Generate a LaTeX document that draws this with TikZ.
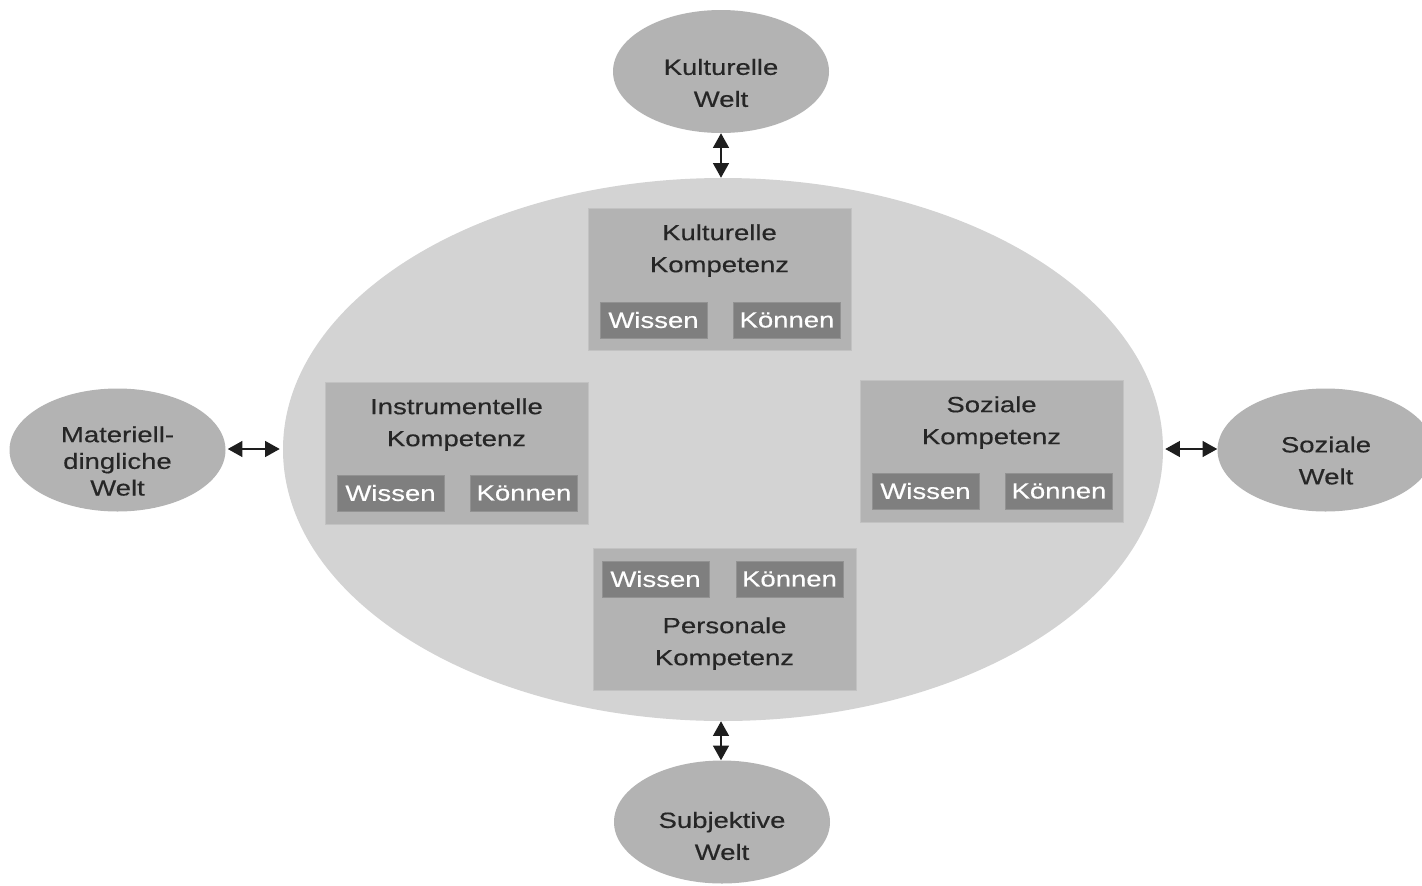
\documentclass[tikz,border=0pt]{standalone}
\usepackage{fontspec}
\newfontfamily\wfont[FakeStretch=1.25,FakeBold=0.4]{Liberation Sans}
\usetikzlibrary{shapes.geometric,arrows.meta,calc}
\definecolor{bigfill}{HTML}{D3D3D3}
\definecolor{weltfill}{HTML}{B3B3B3}
\definecolor{boxfill}{HTML}{B3B3B3}
\definecolor{boxline}{HTML}{C2C2C2}
\definecolor{smallfill}{HTML}{7F7F7F}
\definecolor{txt}{HTML}{262626}
\definecolor{arr}{HTML}{1E1E1E}
\tikzset{
  bigell/.style={ellipse, fill=bigfill, minimum width=660pt, minimum height=407.25pt, inner sep=0pt},
  welt/.style={ellipse, fill=weltfill, minimum width=162pt, minimum height=92.25pt, inner sep=0pt},
  wtext/.style={align=center, text=txt, font=\wfont\fontsize{16.5}{24}\selectfont, inner sep=0pt},
  wtextsm/.style={align=center, text=txt, font=\wfont\fontsize{16.5}{20}\selectfont, inner sep=0pt},
  kbox/.style={rectangle, fill=boxfill, draw=boxline, line width=0.6pt, minimum width=197.25pt, minimum height=106.5pt, inner sep=0pt},
  ktext/.style={align=center, text=txt, font=\wfont\fontsize{16.5}{24}\selectfont, inner sep=0pt},
  sbox/.style={rectangle, fill=smallfill, draw=smallfill!85!white, line width=0.4pt, minimum width=80.25pt, minimum height=27pt, inner sep=0pt, text=white, font=\wfont\fontsize{16.5}{20}\selectfont},
  dbl/.style={{Triangle[length=11pt,width=12pt]}-{Triangle[length=11pt,width=12pt]}, draw=arr, fill=arr, line width=1pt}
}
\begin{document}
\begin{tikzpicture}[x=0.75pt,y=-0.75pt]
\useasboundingbox (0,0) rectangle (1422,886);
\clip (0,0) rectangle (1422,886);
\fill[white] (0,0) rectangle (1422,886);
% big ellipse
\node[bigell] (big) at (723,449.5) {};
% outer worlds
\node[welt] (kw) at (721,71.5) {};
\node[wtext] (kwt) at (721,83) {Kulturelle\\Welt};
\node[welt] (mw) at (117.5,450) {};
\node[wtextsm] (mwt) at (117.5,461) {Materiell-\\dingliche\\Welt};
\node[welt] (sw) at (1325.5,450) {};
\node[wtext] (swt) at (1326,460.5) {Soziale\\Welt};
\node[welt] (subw) at (722,822) {};
\node[wtext] (subwt) at (722,836) {Subjektive\\Welt};
% competence boxes
\node[kbox] (kk) at (719.5,279.5) {};
\node[ktext] (kkt) at (719.5,250.5) {Kulturelle\\Kompetenz};
\node[sbox] (kkw) at (653.5,320) {Wissen};
\node[sbox] (kkk) at (787,320) {Können};
\node[kbox] (ik) at (456.5,453) {};
\node[ktext] (ikt) at (456.5,424.5) {Instrumentelle\\Kompetenz};
\node[sbox] (ikw) at (390.5,493) {Wissen};
\node[sbox] (ikk) at (524,493) {Können};
\node[kbox] (sk) at (991.5,451) {};
\node[ktext] (skt) at (991.5,422.5) {Soziale\\Kompetenz};
\node[sbox] (skw) at (925.5,491) {Wissen};
\node[sbox] (skk) at (1059,491) {Können};
\node[kbox] (pk) at (724.5,619) {};
\node[ktext] (pkt) at (724.5,643.5) {Personale\\Kompetenz};
\node[sbox] (pkw) at (655.5,579) {Wissen};
\node[sbox] (pkk) at (789.5,579) {Können};
% arrows
\draw[dbl] (kw.south) -- (kw.south |- big.north);
\draw[dbl] (subw.north -| 721,0) -- (big.south -| 721,0);
\draw[dbl] ($(mw.east)+(2,-1)$) -- ($(big.west)+(-3,-0.5)$);
\draw[dbl] ($(big.east)+(2,-0.5)$) -- ($(sw.west)+(0,-1)$);
\end{tikzpicture}
\end{document}
